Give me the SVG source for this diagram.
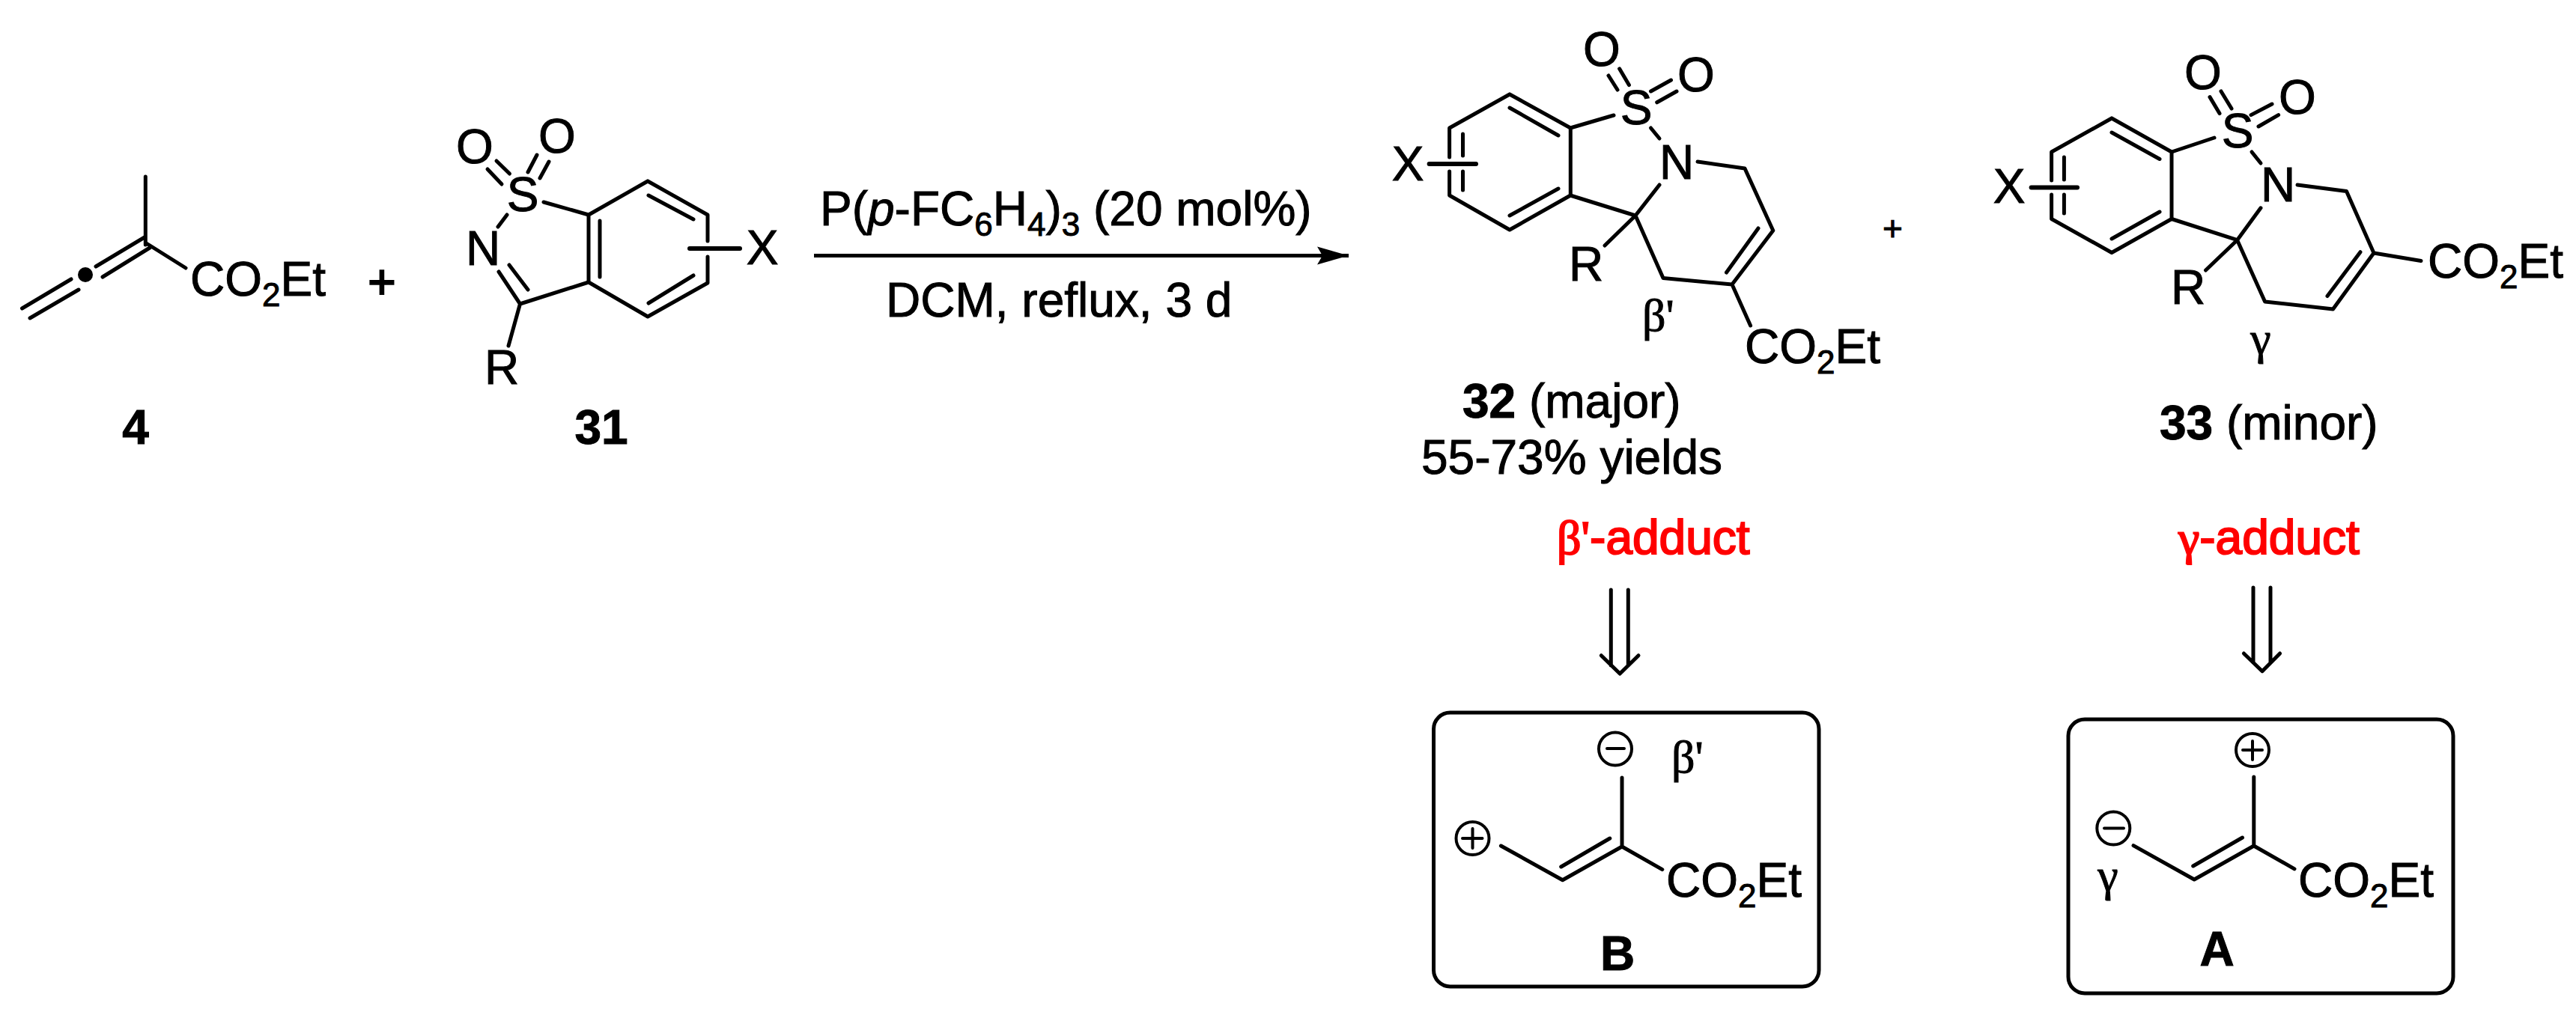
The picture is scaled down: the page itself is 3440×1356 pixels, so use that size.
<svg xmlns="http://www.w3.org/2000/svg" width="3440" height="1356" viewBox="0 0 3440 1356">
<style>
text{font-family:"Liberation Sans",Arial,sans-serif;font-size:64px;fill:#000;stroke:#000;stroke-width:1}
.m{text-anchor:middle}
.b{font-weight:700}
.g{font-family:"Liberation Serif","DejaVu Serif",serif;font-size:62px}
.r,.r tspan{fill:#f00;stroke:#f00;stroke-width:2}
.l path,.l line{fill:none;stroke:#000;stroke-width:5;stroke-linecap:round;stroke-linejoin:round}
.box{fill:none;stroke:#000;stroke-width:5}
.c circle{fill:none;stroke:#000;stroke-width:4}
.c path{fill:none;stroke:#000;stroke-width:4}
.plus{font-size:64px;stroke-width:2}
</style>
<defs>
<marker id="head" markerUnits="userSpaceOnUse" markerWidth="44" markerHeight="26" refX="42" refY="13" orient="auto"><path d="M0 1L42 13L0 25L7 13Z" fill="#000"/></marker>
</defs>
<rect width="3440" height="1356" fill="#fff"/>

<g id="compound-4" class="l">
<path d="M194.3 236V327M193 317L128 356M200 331L137 370M95 373L29.5 412M105 387L40 425M197 326L248 358"/>
<circle cx="114" cy="367" r="10" fill="#000"/>
<text x="254" y="395">CO<tspan font-size="44" dy="14">2</tspan><tspan dy="-14">Et</tspan></text>
<text class="m b" x="181" y="593">4</text>
</g>
<text id="plus-1" class="m plus" x="510" y="399">+</text>

<g id="compound-31" class="l">
<path d="M865 242L786 287V377L865 423L945 378V343M945 322V287L865 242M801 295V370M866 261L926 293M866 405L926 368"/>
<path d="M726 270L786 287M677 287L665 303M666 363L694.5 406L786 377M680 354L705 387M694.5 406L679 462"/>
<path d="M663 215L680.5 232M651 226L670 246M717 207L705 230M733 216L721 238"/>
<path d="M921 332H988" style="stroke-width:6"/>
<text class="m" x="634" y="218">O</text>
<text class="m" x="744" y="204">O</text>
<text class="m" x="698" y="282">S</text>
<text class="m" x="645" y="354">N</text>
<text class="m" x="1018" y="353">X</text>
<text class="m" x="670" y="513">R</text>
<text class="m b" x="803" y="593">31</text>
</g>

<g id="reaction-conditions">
<text x="1095" y="301">P(<tspan font-style="italic">p</tspan>-FC<tspan font-size="44" dy="14">6</tspan><tspan dy="-14">H</tspan><tspan font-size="44" dy="14">4</tspan><tspan dy="-14">)</tspan><tspan font-size="44" dy="14">3</tspan><tspan dy="-14"> (20 mol%)</tspan></text>
<text x="1183" y="423">DCM, reflux, 3 d</text>
</g>

<g id="connectors" class="l">
<line x1="1087" y1="341.5" x2="1801" y2="341.5" marker-end="url(#head)" style="stroke-linecap:butt"/>
<path d="M2151.3 788V889M2174.3 788V889M2138.3 875.7L2163.2 900L2188 875.7"/>
<path d="M3009 785V885M3032 785V885M2996.4 873L3021 896.7L3044.6 873"/>
</g>

<g id="compound-32" class="l">
<path d="M2016 126L2097.3 171V261L2016 307L1935.6 261V229M1935.6 210V171L2016 126M1953.5 179V208M1953.5 229V254M2016 144L2081 181M2016 288L2081 252"/>
<path d="M2097 171L2155 154M2160 120L2148 101M2175.4 113.6L2162.6 91.8M2204.5 122L2231.5 107M2212.7 136.8L2239 122M2204.5 171L2216 185"/>
<path d="M2267 216L2330 225L2367.8 308L2313 380L2221 371.6L2184 288L2097 261M2348 305L2305.5 364M2184 288L2216 247M2184 288L2143 328M2313 380L2337.6 435"/>
<path d="M1908.6 219H1971" style="stroke-width:6"/>
<text class="m" x="2139" y="88">O</text>
<text class="m" x="2265" y="122">O</text>
<text class="m" x="2185" y="166">S</text>
<text class="m" x="2239" y="239">N</text>
<text class="m" x="1880" y="241">X</text>
<text class="m" x="2118" y="375">R</text>
<text x="2330" y="485">CO<tspan font-size="44" dy="14">2</tspan><tspan dy="-14">Et</tspan></text>
<text class="g" x="2193" y="442">β'</text>
<text x="1953" y="558"><tspan class="b">32</tspan> (major)</text>
<text x="1898" y="633">55-73% yields</text>
</g>
<text id="plus-2" class="m" style="font-size:46px" x="2527.5" y="321">+</text>

<g id="compound-33" class="l">
<path d="M2820 158L2900 203V292.5L2820 337.5L2739.6 292.5V260M2739.6 241V203L2820 158M2756.4 210V240M2756.4 260V285M2820 177L2884 212.5M2820 319L2884 283"/>
<path d="M2900 203L2957 184M2964 151.5L2951 129.6M2980 145L2966 122M3006 153.6L3034 139M3016 169L3042.6 153.6M3007 203L3019 218"/>
<path d="M3068 247L3133.5 255.5L3170 338L3115.5 413L3024.6 403L2987.6 320.7L2900 292.5M3170 338L3233 348.5M3152 336.7L3108 395.6M2987.6 320.7L3019 277.8M2987.6 320.7L2945.5 361"/>
<path d="M2712.6 250.4H2774" style="stroke-width:6"/>
<text class="m" x="2942" y="119">O</text>
<text class="m" x="3068" y="152">O</text>
<text class="m" x="2988" y="197">S</text>
<text class="m" x="3042" y="269">N</text>
<text class="m" x="2683" y="271">X</text>
<text class="m" x="2922" y="406">R</text>
<text x="3242" y="371">CO<tspan font-size="44" dy="14">2</tspan><tspan dy="-14">Et</tspan></text>
<text class="g m" x="3019" y="473">γ</text>
<text x="2884" y="587"><tspan class="b">33</tspan> (minor)</text>
</g>

<g id="label-beta-adduct"><text class="r" x="2079" y="740"><tspan class="g" style="font-size:64px">β'</tspan>-adduct</text></g>
<g id="label-gamma-adduct"><text class="r" x="2909" y="740"><tspan class="g" style="font-size:64px">γ</tspan>-adduct</text></g>

<g id="intermediate-B" class="l c">
<rect class="box" x="1914.5" y="952" width="514.5" height="366" rx="22"/>
<circle cx="2157" cy="1000.5" r="22"/>
<path d="M2146 1000H2169"/>
<circle cx="1966.5" cy="1120" r="22"/>
<path d="M1953 1120H1979.5M1966.5 1107V1133"/>
<path d="M2166 1039V1131L2086.7 1175.7L2004.4 1130M2149.8 1120L2084.7 1158M2166 1131L2219.8 1161.6" style="stroke-width:5"/>
<text x="2225" y="1198">CO<tspan font-size="44" dy="14">2</tspan><tspan dy="-14">Et</tspan></text>
<text class="g" x="2232" y="1032">β'</text>
<text class="m b" x="2160" y="1296">B</text>
</g>

<g id="intermediate-A" class="l c">
<rect class="box" x="2762" y="961" width="514" height="366" rx="22"/>
<circle cx="3008" cy="1002" r="22"/>
<path d="M2995 1002H3021M3008 990V1015"/>
<circle cx="2822.3" cy="1106.5" r="22"/>
<path d="M2810 1106.5H2836"/>
<path d="M3009.8 1038V1130L2930.2 1175L2849 1129.6M2994.5 1119L2928.7 1157M3009.8 1130L3064 1160.8" style="stroke-width:5"/>
<text x="3069" y="1197.5">CO<tspan font-size="44" dy="14">2</tspan><tspan dy="-14">Et</tspan></text>
<text class="g m" x="2815" y="1190">γ</text>
<text class="m b" x="2960.5" y="1290">A</text>
</g>
</svg>
